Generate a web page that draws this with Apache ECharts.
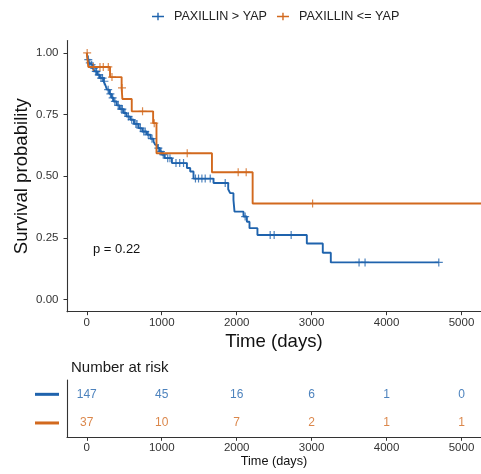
<!DOCTYPE html>
<html>
<head>
<meta charset="utf-8">
<script src="https://cdn.jsdelivr.net/npm/echarts@6/dist/echarts.min.js"></script>
<style>html,body{margin:0;padding:0;background:#fff}#c{width:481px;height:474px}</style>
</head>
<body>
<div id="c"></div>
<script>
// ---- data ----
const groupNames = ['PAXILLIN > YAP', 'PAXILLIN <= YAP'];
const timeTicks = [0, 1000, 2000, 3000, 4000, 5000];
const survTicks = [0, 0.25, 0.5, 0.75, 1];

const blueEventTimes = [0,8,15,25,50,80,105,140,175,224,250,269,300,330,357,400,440,491,530,580,630,691,740,803,850,890,913,940,975,1003,1040,1136,1336,1380,1424,1691,1887,1913,1957,1971,2091,2136,2171,2277,2936,3149,3256];
const blueSurv = [1,0.986,0.973,0.960,0.952,0.938,0.925,0.911,0.898,0.885,0.868,0.851,0.834,0.818,0.803,0.787,0.772,0.756,0.742,0.729,0.712,0.695,0.681,0.668,0.652,0.641,0.627,0.614,0.600,0.587,0.573,0.553,0.533,0.519,0.490,0.472,0.447,0.431,0.404,0.356,0.336,0.315,0.289,0.261,0.227,0.189,0.150];
const blueLastTime = 4697;
const blueCensor = [20,40,65,95,120,130,160,190,210,235,285,315,345,375,420,460,475,510,555,600,655,670,715,760,780,820,870,955,990,1020,1080,1110,1190,1240,1291,1450,1491,1536,1580,1647,1847,2113,2447,2500,2727,3633,3713,4697];

const orangeEventTimes = [0,20,310,465,475,600,885,930,1670,2213];
const orangeSurv = [1,0.943,0.902,0.858,0.813,0.763,0.715,0.593,0.516,0.389];
const orangeLastTime = 5260;
const orangeCensor = [5,87,176,220,287,336,470,744,900,1340,2020,2127,3013];

const riskTimes = [0, 1000, 2000, 3000, 4000, 5000];
const riskBlue = [147, 45, 16, 6, 1, 0];
const riskOrange = [37, 10, 7, 2, 1, 1];

const pText = 'p = 0.22';

// ---- styling ----
const BLUE = '#1f63ad';
const ORANGE = '#d2691e';
const FONT = '"Liberation Sans", Arial, sans-serif';
const AX = '#333';
const plusPath = 'path://M0,5.3H12V6.7H0Z M5.3,2.2H6.7V9.8H5.3Z';
const censorPath = 'path://M0,3.4H8V4.6H0Z M3.4,0H4.6V8H3.4Z';

function stepData(times, surv, last) {
  const d = times.map((t, i) => [t, surv[i]]);
  d.push([last, surv[surv.length - 1]]);
  return d;
}
function survAt(times, surv, t) {
  let s = surv[0];
  for (let i = 0; i < times.length; i++) if (times[i] <= t) s = surv[i];
  return s;
}
function censorData(ct, times, surv) {
  return ct.map(t => [t, survAt(times, surv, t)]);
}

const chart = echarts.init(document.getElementById('c'), null, {renderer: 'canvas'});
const xMin = -264, xMax = 5260;

function timeAxis(gi, margin, nameGap, nameSize) {
  return {
    type: 'value', gridIndex: gi, min: xMin, max: xMax,
    axisLine: {show: true, onZero: false, lineStyle: {color: AX, width: 1.1}},
    axisTick: {show: true, customValues: timeTicks, length: 3.5, lineStyle: {color: AX}},
    axisLabel: {customValues: timeTicks, formatter: v => String(v), fontSize: 11.5, color: '#333', margin: margin, fontFamily: FONT},
    splitLine: {show: false},
    name: 'Time (days)', nameLocation: 'middle', nameGap: nameGap, nameMoveOverlap: false,
    nameTextStyle: {fontSize: nameSize, color: '#111', fontFamily: FONT}
  };
}

const option = {
  animation: false,
  textStyle: {fontFamily: FONT},
  legend: {
    data: [{name: groupNames[0], icon: plusPath}, {name: groupNames[1], icon: plusPath}],
    left: 152, top: 10, padding: 0, itemWidth: 12, itemHeight: 12, itemGap: 10,
    textStyle: {fontSize: 12.6, color: '#222', fontFamily: FONT, padding: [0, 0, 0, 5]}
  },
  title: {
    text: 'Number at risk', left: 66, top: 355,
    textStyle: {fontSize: 15, fontWeight: 'normal', color: '#1a1a1a', fontFamily: FONT}
  },
  graphic: [{
    type: 'text', left: 93, top: 243,
    style: {text: pText, fontSize: 13, fill: '#111', font: '13px ' + FONT}
  }],
  grid: [
    {left: 67, right: 0, top: 40.6, height: 271.1, outerBoundsMode: 'none'},
    {left: 67, right: 0, top: 380, height: 57.3, outerBoundsMode: 'none'}
  ],
  xAxis: [timeAxis(0, 5, 21, 18.6), timeAxis(1, 5, 18, 12.7)],
  yAxis: [{
    type: 'value', gridIndex: 0, min: -0.05, max: 1.05,
    axisLine: {show: true, onZero: false, lineStyle: {color: AX, width: 1.1}},
    axisTick: {show: true, customValues: survTicks, length: 3.5, lineStyle: {color: AX}},
    axisLabel: {customValues: survTicks, formatter: v => Number(v).toFixed(2), fontSize: 11.5, color: '#333', margin: 8.5, fontFamily: FONT},
    splitLine: {show: false},
    name: 'Survival probability', nameLocation: 'middle', nameGap: 36, nameRotate: 90, nameMoveOverlap: false,
    nameTextStyle: {fontSize: 18.6, color: '#111', fontFamily: FONT}
  }, {
    type: 'category', gridIndex: 1, data: groupNames, inverse: true,
    axisLine: {show: true, onZero: false, lineStyle: {color: AX, width: 1.1}},
    axisTick: {show: false},
    axisLabel: {
      margin: 8,
      formatter: (v, i) => i === 0 ? '{a|}' : '{b|}',
      rich: {
        a: {width: 24, height: 3, backgroundColor: BLUE},
        b: {width: 24, height: 3, backgroundColor: ORANGE}
      }
    }
  }],
  series: [
    {
      name: groupNames[0], type: 'line', step: 'end', showSymbol: false, symbol: 'none',
      xAxisIndex: 0, yAxisIndex: 0, color: BLUE,
      lineStyle: {color: BLUE, width: 1.9},
      data: stepData(blueEventTimes, blueSurv, blueLastTime), z: 2
    },
    {
      name: groupNames[0], type: 'scatter', xAxisIndex: 0, yAxisIndex: 0,
      symbol: censorPath, symbolSize: 8, itemStyle: {color: BLUE}, color: BLUE,
      data: censorData(blueCensor, blueEventTimes, blueSurv), z: 2
    },
    {
      name: groupNames[1], type: 'line', step: 'end', showSymbol: false, symbol: 'none',
      xAxisIndex: 0, yAxisIndex: 0, color: ORANGE,
      lineStyle: {color: ORANGE, width: 1.9},
      data: stepData(orangeEventTimes, orangeSurv, orangeLastTime), z: 3
    },
    {
      name: groupNames[1], type: 'scatter', xAxisIndex: 0, yAxisIndex: 0,
      symbol: censorPath, symbolSize: 8, itemStyle: {color: ORANGE}, color: ORANGE,
      data: censorData(orangeCensor, orangeEventTimes, orangeSurv), z: 3
    },
    {
      type: 'scatter', xAxisIndex: 1, yAxisIndex: 1, symbolSize: 0, silent: true,
      data: riskTimes.map((t, i) => [t, groupNames[0], riskBlue[i]]),
      label: {show: true, position: 'inside', formatter: p => String(p.value[2]), color: BLUE, fontSize: 12, fontFamily: FONT}
    },
    {
      type: 'scatter', xAxisIndex: 1, yAxisIndex: 1, symbolSize: 0, silent: true,
      data: riskTimes.map((t, i) => [t, groupNames[1], riskOrange[i]]),
      label: {show: true, position: 'inside', formatter: p => String(p.value[2]), color: ORANGE, fontSize: 12, fontFamily: FONT}
    }
  ]
};
chart.setOption(option);
</script>
</body>
</html>
